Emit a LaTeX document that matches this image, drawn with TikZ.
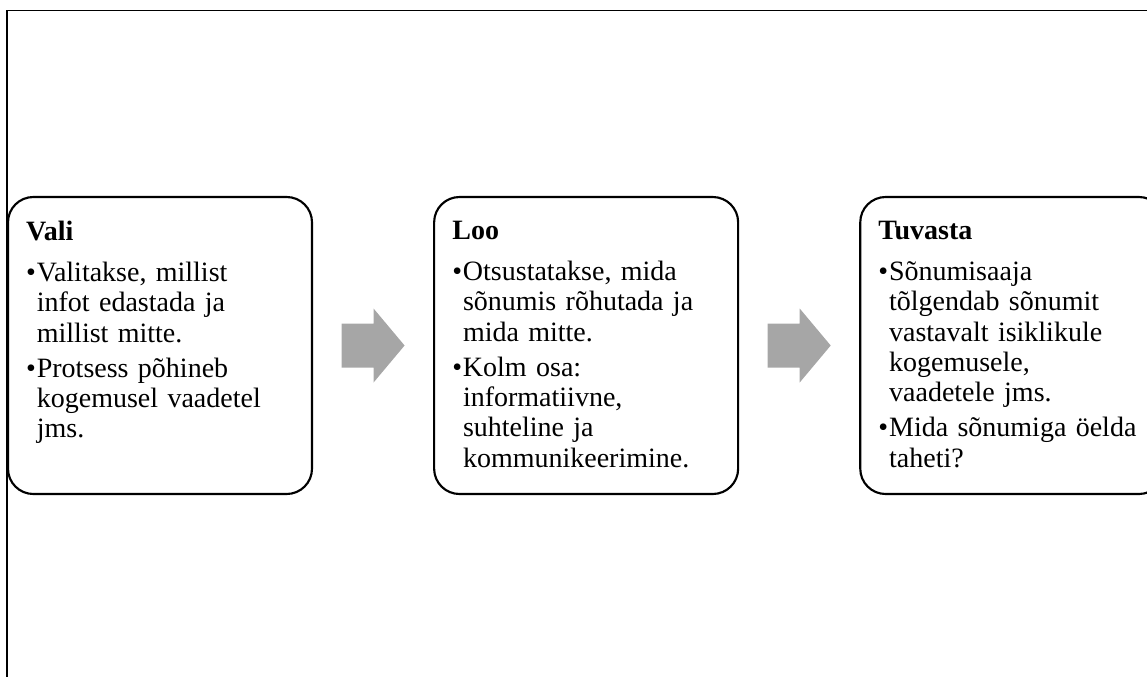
\documentclass[tikz,border=0pt]{standalone}
\usepackage{fontspec}
\setmainfont{Liberation Serif}
\usetikzlibrary{positioning,calc}
\definecolor{pfeilgrau}{RGB}{166,166,166}
\newcommand{\punkt}{\par\hangindent=8pt\hangafter=1\noindent\makebox[8pt][l]{•}}

\begin{document}
\begin{tikzpicture}[x=0.75pt,y=-0.75pt,
	kasten/.style={draw, line width=1.6pt, rounded corners=19pt, fill=white,
		minimum width=228pt, minimum height=222.75pt, inner sep=0pt},
	inhalt/.style={anchor=north west, inner sep=0pt, text width=215pt, align=left,
		font=\fontsize{21pt}{22.8pt}\selectfont,
		execute at begin node=\setlength{\parskip}{3.4pt}}]
	% Bildausschnitt
	\clip (0,0) rectangle (1147,676);
	% Rahmen (nur oben und links sichtbar)
	\draw[line width=1.2pt] (7,690) -- (7,10.5) -- (1160,10.5);
	% Drei Kästen
	\node[kasten] (vali) at (160,345.5) {};
	\node[kasten, right=90pt of vali] (loo) {};
	\node[kasten, right=90pt of loo] (tuvasta) {};
	% Texte
	\node[inhalt] (valitext) at ($(vali.north west)+(19,25)$)
		{{\bfseries Vali}\par\vspace{4.4pt}
		\punkt Valitakse, millist\newline infot edastada ja\newline millist mitte.
		\punkt Protsess põhineb\newline kogemusel vaadetel\newline jms.\par};
	\node[inhalt] (lootext) at ($(loo.north west)+(19,25)$)
		{{\bfseries Loo}\par\vspace{4.4pt}
		\punkt Otsustatakse, mida\newline sõnumis rõhutada ja\newline mida mitte.
		\punkt Kolm osa:\newline informatiivne,\newline suhteline ja\newline kommunikeerimine.\par};
	\node[inhalt] (tuvastatext) at ($(tuvasta.north west)+(19,25)$)
		{{\bfseries Tuvasta}\par\vspace{4.4pt}
		\punkt Sõnumisaaja\newline tõlgendab sõnumit\newline vastavalt isiklikule\newline
		kogemusele,\newline vaadetele jms.
		\punkt Mida sõnumiga öelda\newline taheti?\par};
	% Graue Pfeile zwischen den Kästen
	\coordinate (p1) at ($(vali.east)!.5!(loo.west)$);
	\coordinate (p2) at ($(loo.east)!.5!(tuvasta.west)$);
	\foreach \p in {p1,p2}
		\fill[pfeilgrau] ($(\p)+(-31.5,-22)$) -- ($(\p)+(0.5,-22)$) -- ($(\p)+(0.5,-37)$)
			-- ($(\p)+(31.5,0)$) -- ($(\p)+(0.5,37)$) -- ($(\p)+(0.5,22)$)
			-- ($(\p)+(-31.5,22)$) -- cycle;
\end{tikzpicture}
\end{document}
